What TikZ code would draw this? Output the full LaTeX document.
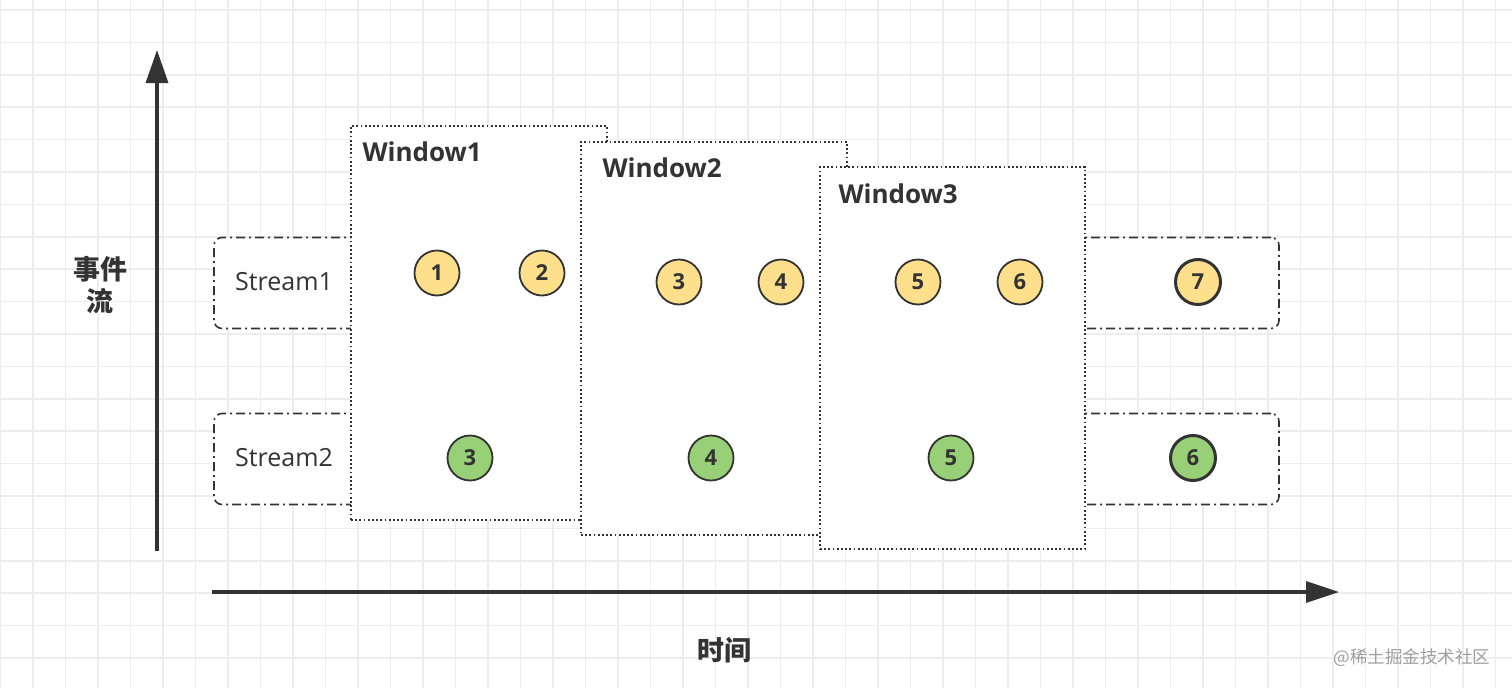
\documentclass[tikz,border=0pt]{standalone}
\usepackage{fontspec}
\setmainfont{Open Sans}
\newfontfamily\cjk{Noto Sans CJK SC}
\usetikzlibrary{arrows.meta}
\definecolor{gridc}{HTML}{EDEDED}
\definecolor{ink}{HTML}{333333}
\definecolor{ylw}{HTML}{FDDF8C}
\definecolor{grn}{HTML}{97D077}
\tikzset{
  axisline/.style={draw=ink, line width=3.4pt},
  streambox/.style={draw=ink, fill=white, line width=1.6pt, rounded corners=8pt,
    dash pattern=on 9pt off 4pt on 2pt off 4pt, inner sep=0pt},
  winbox/.style={draw=ink, fill=white, line width=1.8pt,
    dash pattern=on 1.8pt off 2.4pt, inner sep=0pt},
  wintitle/.style={anchor=west, text=ink, font=\bfseries\fontsize{26}{30}\selectfont},
  streamlabel/.style={text=ink, font=\fontsize{25}{29}\selectfont},
  ev/.style={circle, draw=ink, line width=1.8pt, minimum size=45pt, inner sep=0pt,
    text=ink, font=\fontsize{22}{25}\selectfont\bfseries},
  evy/.style={ev, fill=ylw},
  evg/.style={ev, fill=grn},
  thick ev/.style={line width=3pt},
  cjklabel/.style={text=ink, font=\cjk\bfseries\fontsize{27}{32}\selectfont, align=center}
}
\begin{document}
\begin{tikzpicture}[x=1pt,y=-1pt]
\useasboundingbox (0,0) rectangle (1512,688);
\fill[white] (0,0) rectangle (1512,688);
\foreach \i in {0,...,46} \draw[gridc, line width=1.5pt] ({0.5+32.5*\i},0) -- ({0.5+32.5*\i},688);
\foreach \j in {0,...,21} \draw[gridc, line width=1.5pt] (0,{10+32.4*\j}) -- (1512,{10+32.4*\j});

% axes
\coordinate (ybot) at (157,551);
\coordinate (ytop) at (157,50);
\coordinate (xleft) at (212,592);
\coordinate (xright) at (1339,592);
\draw[axisline, -{Triangle[length=33pt,width=22pt]}] (ybot) -- (ytop);
\draw[axisline, -{Triangle[length=33pt,width=21pt]}] (xleft) -- (xright);

\node[cjklabel] (ylab) at (100,285) {事件\\流};
\node[cjklabel] (xlab) at (724,650) {时间};
\node[text=gray!75, font=\cjk\fontsize{17.5}{20}\selectfont] (wm) at (1412,658) {@稀土掘金技术社区};

% streams
\node[streambox, minimum width=1065pt, minimum height=91pt] (s1) at (746.5,283) {};
\node[streambox, minimum width=1065pt, minimum height=91pt] (s2) at (746.5,459) {};
\node[streamlabel] (s1l) at (284,282) {Stream1};
\node[streamlabel] (s2l) at (284,458) {Stream2};

% windows
\node[winbox, minimum width=256pt, minimum height=394pt] (w1) at (479,323) {};
\node[wintitle] (w1t) at (359,152) {Window1};
\node[winbox, minimum width=266pt, minimum height=393pt] (w2) at (714,338.5) {};
\node[wintitle] (w2t) at (599,168) {Window2};
\node[winbox, minimum width=265pt, minimum height=382pt] (w3) at (952.5,358) {};
\node[wintitle] (w3t) at (835,194) {Window3};

% events stream1
\node[evy] (a1) at (437,273) {1};
\node[evy] (a2) at (542,273) {2};
\node[evy] (a3) at (679,282) {3};
\node[evy] (a4) at (781,282) {4};
\node[evy] (a5) at (918,282) {5};
\node[evy] (a6) at (1020,282) {6};
\node[evy, thick ev] (a7) at (1198,282) {7};
% events stream2
\node[evg] (b3) at (470,458) {3};
\node[evg] (b4) at (711,458) {4};
\node[evg] (b5) at (951,458) {5};
\node[evg, thick ev] (b6) at (1193,458) {6};
\end{tikzpicture}
\end{document}
